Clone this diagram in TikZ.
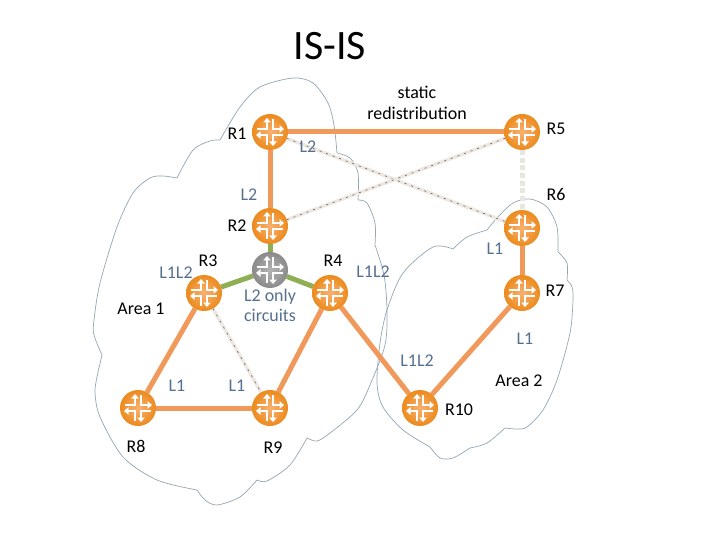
\documentclass[tikz,border=0pt]{standalone}
\usepackage{fontspec}
\setmainfont{Carlito}
\usetikzlibrary{arrows.meta,backgrounds}
\definecolor{orangelink}{HTML}{F0995A}
\definecolor{greenlink}{HTML}{8FAF55}
\definecolor{labelblue}{HTML}{55708F}
\definecolor{cloudline}{HTML}{93A6B4}
\definecolor{palelink}{HTML}{EEE8E3}
\definecolor{darkdash}{HTML}{7A6C65}
\definecolor{paledot}{HTML}{E6E8DF}
\definecolor{orangein}{HTML}{F8B272}
\definecolor{orangeout}{HTML}{EC8A1C}
\definecolor{greyin}{HTML}{B4B4B4}
\definecolor{greyout}{HTML}{8A8A8A}
\newcommand{\routerglyph}{%
  \draw[white,line width=2.8bp,-{Triangle[length=4.5bp,width=7.5bp]},shift={(path picture bounding box.center)}]
    (-13,-3) -- (-3,-3) -- (-3,-14);
  \draw[white,line width=2.8bp,-{Triangle[length=4.5bp,width=7.5bp]},shift={(path picture bounding box.center)}]
    (3,-13) -- (3,-3) -- (14,-3);
  \draw[white,line width=2.8bp,-{Triangle[length=4.5bp,width=7.5bp]},shift={(path picture bounding box.center)}]
    (13,3) -- (3,3) -- (3,14);
  \draw[white,line width=2.8bp,-{Triangle[length=4.5bp,width=7.5bp]},shift={(path picture bounding box.center)}]
    (-3,13) -- (-3,3) -- (-14,3);
}
\tikzset{
  x=1bp,y=-1bp,
  router/.style={circle,minimum size=36bp,inner sep=0pt,outer sep=0pt,path picture={\routerglyph}},
  orouter/.style={router,inner color=orangein,outer color=orangeout},
  grouter/.style={router,inner color=greyin,outer color=greyout},
  link/.style={orangelink,line width=5bp},
  glink/.style={greenlink,line width=5bp},
  dimlink/.style={palelink,line width=3.5bp,
    postaction={draw=darkdash,line width=.7bp,dash pattern=on 2bp off 5bp}},
  dotlink/.style={paledot,line width=5bp,dash pattern=on 5bp off 2.7bp},
  cloudpath/.style={cloudline,line width=.7bp},
  lab/.style={inner sep=0pt,font=\fontsize{18}{22}\selectfont,text=black},
  bluelab/.style={lab,text=labelblue},
}
\begin{document}
\begin{tikzpicture}
\useasboundingbox (0,0) rectangle (720,540);
\node[orouter] (r1) at (270,132) {};
\node[orouter] (r2) at (270,226) {};
\node[grouter] (g)  at (270,270) {};
\node[orouter] (r3) at (204,293) {};
\node[orouter] (r4) at (330,293) {};
\node[orouter] (r5) at (522,132) {};
\node[orouter] (r6) at (522,228) {};
\node[orouter] (r7) at (522,293) {};
\node[orouter] (r8) at (138,408) {};
\node[orouter] (r9) at (270,408) {};
\node[orouter] (r10) at (420,408) {};
\begin{scope}[on background layer]
  % Area 1 cloud
  \draw[cloudpath]
    plot[smooth] coordinates {(220,140)(240,107)(260,87)(293,78)(313,83)(328,103)(334,125)(337,153)}
    plot[smooth] coordinates {(337,153)(350,158)(358,173)(358,200)}
    plot[smooth] coordinates {(358,200)(367,203)(375,223)(375,245)}
    plot[smooth] coordinates {(375,245)(384,275)(387,310)(385,345)(370,385)(357,410)(330,433)(317,441)(307,438)}
    plot[smooth] coordinates {(307,438)(290,465)(267,481)(257,480)}
    plot[smooth] coordinates {(257,480)(240,497)(217,505)(205,500)(197,490)}
    plot[smooth] coordinates {(197,490)(157,480)(123,457)(100,417)(95,393)(97,377)(102,355)}
    plot[smooth] coordinates {(102,355)(94,335)(94,320)(100,283)(117,227)(133,193)(150,178)(163,176)(177,178)}
    plot[smooth] coordinates {(177,178)(193,150)(210,141)(220,140)};
  % Area 2 cloud
  \draw[cloudpath]
    plot[smooth] coordinates {(487,230)(497,218)(513,203)(530,199)(547,207)(557,227)(558,252)}
    plot[smooth] coordinates {(558,252)(567,263)(567,280)}
    plot[smooth] coordinates {(567,280)(572,287)(573,300)(570,333)(557,380)(543,410)(527,427)(517,429)(505,428)}
    plot[smooth] coordinates {(505,428)(487,443)(470,448)}
    plot[smooth] coordinates {(470,448)(453,458)(440,458)(430,447)}
    plot[smooth] coordinates {(430,447)(403,430)(383,407)(377,383)(380,343)(387,310)(403,273)(433,247)(453,249)}
    plot[smooth] coordinates {(453,249)(467,237)(487,230)};
  % links
  \draw[dimlink] (r1) -- (r6);
  \draw[dimlink] (r2) -- (r5);
  \draw[dimlink] (r3) -- (r9);
  \draw[dotlink] (r5) -- (r6);
  \draw[link] (r1) -- (r5);
  \draw[link] (r1) -- (r2);
  \draw[link] (r6) -- (r7);
  \draw[link] (r7) -- (r10);
  \draw[link] (r4) -- (r10);
  \draw[link] (r4) -- (r9);
  \draw[link] (r3) -- (r8);
  \draw[link] (r8) -- (r9);
  \draw[glink] (r2) -- (g);
  \draw[glink] (g) -- (r3);
  \draw[glink] (g) -- (r4);
\end{scope}
\node[lab,font=\fontsize{42}{48}\selectfont] (title) at (330,46) {IS-IS};
\node[lab,align=center,font=\fontsize{18}{21}\selectfont] (static) at (417,103) {static\\redistribution};
\node[lab] (t1) at (237,134) {R1};
\node[lab] (t2) at (237,226) {R2};
\node[lab] (t3) at (208,261) {R3};
\node[lab] (t4) at (333,261) {R4};
\node[lab] (t5) at (556,129) {R5};
\node[lab] (t6) at (556,195) {R6};
\node[lab] (t7) at (555,291) {R7};
\node[lab] (t8) at (136,446) {R8};
\node[lab] (t9) at (273,448) {R9};
\node[lab] (t10) at (459,410) {R10};
\node[lab] (a1) at (141,309) {Area 1};
\node[lab] (a2) at (519,381) {Area 2};
\node[bluelab] (l1) at (308,147) {L2};
\node[bluelab] (l2) at (249,195) {L2};
\node[bluelab] (l3) at (495,249) {L1};
\node[bluelab] (l4) at (176,273) {L1L2};
\node[bluelab] (l5) at (373,272) {L1L2};
\node[bluelab,align=center,font=\fontsize{18}{20}\selectfont] (l6) at (270,305) {L2 only\\circuits};
\node[bluelab] (l7) at (525,339) {L1};
\node[bluelab] (l8) at (417,361) {L1L2};
\node[bluelab] (l9) at (177,386) {L1};
\node[bluelab] (l10) at (237,386) {L1};
\end{tikzpicture}
\end{document}
